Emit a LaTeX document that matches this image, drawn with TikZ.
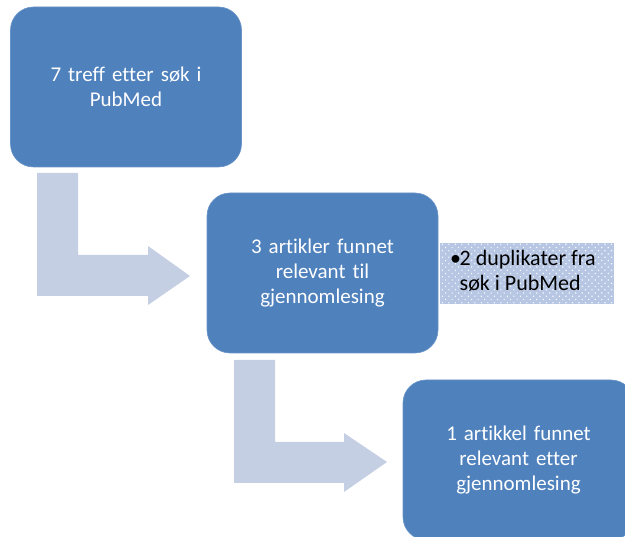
\documentclass[tikz,border=0pt]{standalone}
\usepackage{fontspec}
\setmainfont{Carlito}[Ligatures=NoCommon]
\usetikzlibrary{patterns.meta}
\definecolor{boxblue}{HTML}{4F81BD}
\definecolor{arrowblue}{HTML}{C4CFE3}
\definecolor{dotbg}{HTML}{B6C6E3}
\begin{document}
\begin{tikzpicture}[x=1pt,y=1pt,
  stepbox/.style={rectangle, rounded corners=23pt, fill=boxblue, draw=boxblue!85!white, line width=0.6pt,
    minimum width=231pt, minimum height=160pt, text=white, align=center, text width=190pt,
    font=\fontsize{21}{25}\selectfont},
  bentarrow/.style={fill=arrowblue, draw=none}]
\clip (0,0) rectangle (625,537);
\useasboundingbox (0,0) rectangle (625,537);
% bent arrows
\fill[bentarrow] (37,364) -- (78,364) -- (78,282) -- (148,282) -- (148,291) -- (190,261)
  -- (148,232) -- (148,241) -- (37,241) -- cycle;
\fill[bentarrow] (234,177) -- (275,177) -- (275,95) -- (344,95) -- (344,104) -- (387,75)
  -- (344,45) -- (344,54) -- (234,54) -- cycle;
% boxes
\node[stepbox] (b1) at (126,450) {7 treff etter søk i\\PubMed};
\node[stepbox] (b2) at (322.5,264) {3 artikler funnet\\relevant til\\gjennomlesing};
\node[stepbox] (b3) at (518.5,77) {1 artikkel funnet\\relevant etter\\gjennomlesing};
% note box
\fill[dotbg] (440,233) rectangle (614,294);
\fill[pattern={Dots[distance=4.6pt, radius=0.8pt, angle=45]}, pattern color=white!92!dotbg] (440,233) rectangle (614,294);
\node[anchor=north west, inner sep=0pt, align=left, text=black, font=\fontsize{22}{25}\selectfont] (note) at (450,286.5)
  {\makebox[9.5pt][l]{\textbullet}2 duplikater fra\\\hspace*{9.5pt}søk i PubMed};
\end{tikzpicture}
\end{document}
